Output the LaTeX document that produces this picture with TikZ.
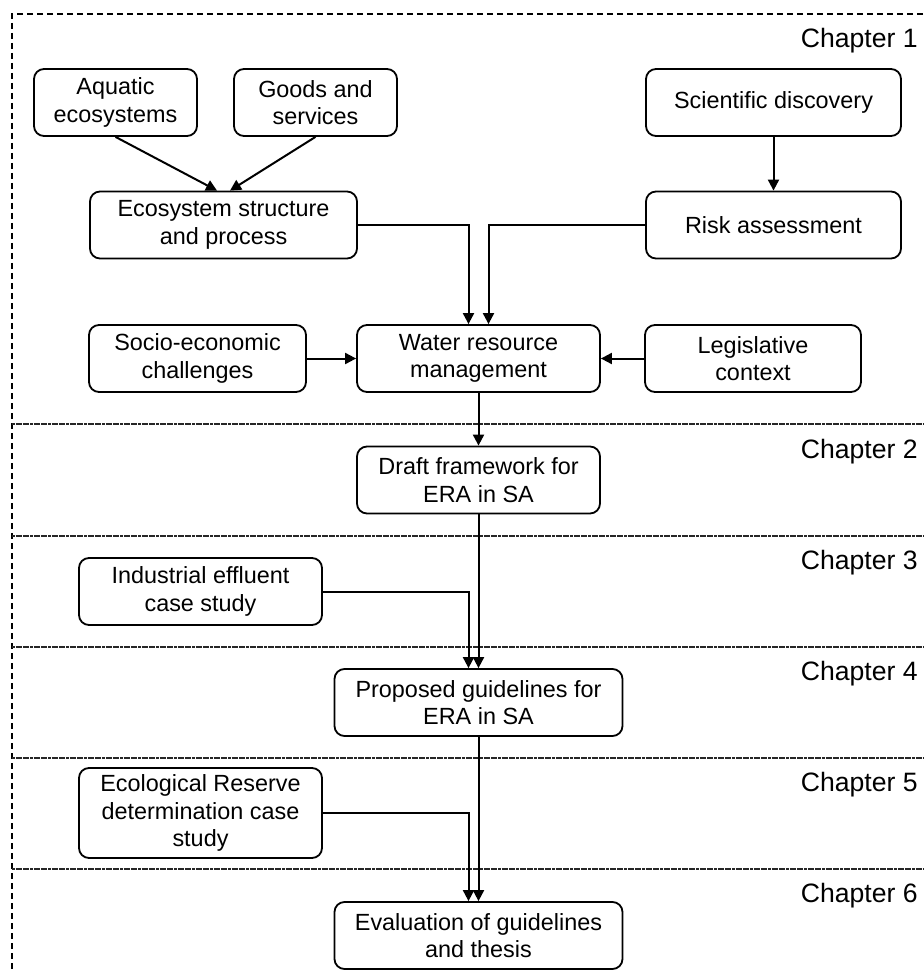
\documentclass[tikz,border=0pt]{standalone}
\usepackage{fontspec}
\setmainfont{Liberation Sans}
\usetikzlibrary{arrows.meta}
\begin{document}
\begin{tikzpicture}[x=0.5pt,y=-0.5pt,
  box/.style={draw, rounded corners=5pt, line width=0.9pt, align=center,
    minimum height=33.5pt, inner sep=0pt, font=\fontsize{11.7}{13.8}\selectfont},
  arr/.style={-{Triangle[width=5.5pt,length=5.5pt]}, line width=1pt},
  chap/.style={anchor=base east, inner sep=0pt, font=\fontsize{13.3}{16}\selectfont},
  sep/.style={line width=0.8pt, black!85, dash pattern=on 1.5pt off 0.3pt},
  frame/.style={line width=0.8pt, dash pattern=on 3pt off 2pt}]
\useasboundingbox (0,0) rectangle (923,973);

% outer frame and chapter separators
\draw[frame] (923,14) -- (12,14) -- (12,980);
\foreach \y in {424,536,647,758,869}
  \draw[sep] (12,\y) -- (923,\y);

% chapter labels
\node[chap] (c1) at (918,48) {Chapter 1};
\node[chap] (c2) at (918,458) {Chapter 2};
\node[chap] (c3) at (918,569) {Chapter 3};
\node[chap] (c4) at (918,680) {Chapter 4};
\node[chap] (c5) at (918,791) {Chapter 5};
\node[chap] (c6) at (918,902) {Chapter 6};

% chapter 1
\node[box, minimum width=81.5pt] (aq) at (115.5,102.5) {Aquatic\\ecosystems};
\node[box, minimum width=81.5pt] (goods) at (315.5,102.5) {Goods and\\services};
\node[box, minimum width=133.5pt] (eco) at (223.5,225) {Ecosystem structure\\and process};
\node[box, minimum width=127.5pt] (sci) at (773.5,102.5) {Scientific discovery};
\node[box, minimum width=127.5pt] (risk) at (773.5,225) {Risk assessment};
\node[box, minimum width=108.5pt] (socio) at (197.5,358.5) {Socio-economic\\challenges};
\node[box, minimum width=121.5pt] (wrm) at (478.5,358.5) {Water resource\\management};
\node[box, minimum width=108pt] (leg) at (753,358.5) {Legislative\\context};

% chapters 2--6
\node[box, minimum width=121.5pt] (draft) at (478.5,480) {Draft framework for\\ERA in SA};
\node[box, minimum width=121.5pt] (ind) at (200.5,591.5) {Industrial effluent\\case study};
\node[box, minimum width=144pt] (prop) at (478.5,702.5) {Proposed guidelines for\\ERA in SA};
\node[box, minimum width=121.5pt, minimum height=45pt] (ecor) at (200.5,813) {Ecological Reserve\\determination case\\study};
\node[box, minimum width=144pt] (eval) at (478.5,935.5) {Evaluation of guidelines\\and thesis};

% connectors
\draw[arr] (aq.south) -- ([xshift=-3.25pt]eco.north);
\draw[arr] (goods.south) -- ([xshift=3.25pt]eco.north);
\draw[arr] (sci.south) -- (risk.north);
\draw[arr] (eco.east) -| ([xshift=-5pt]wrm.north);
\draw[arr] (risk.west) -| ([xshift=5pt]wrm.north);
\draw[arr] (socio.east) -- (wrm.west);
\draw[arr] (leg.west) -- (wrm.east);
\draw[arr] (wrm.south) -- (draft.north);
\draw[arr] (draft.south) -- (prop.north);
\draw[arr] (ind.east) -| ([xshift=-5pt]prop.north);
\draw[arr] (prop.south) -- (eval.north);
\draw[arr] (ecor.east) -| ([xshift=-5pt]eval.north);
\end{tikzpicture}
\end{document}
